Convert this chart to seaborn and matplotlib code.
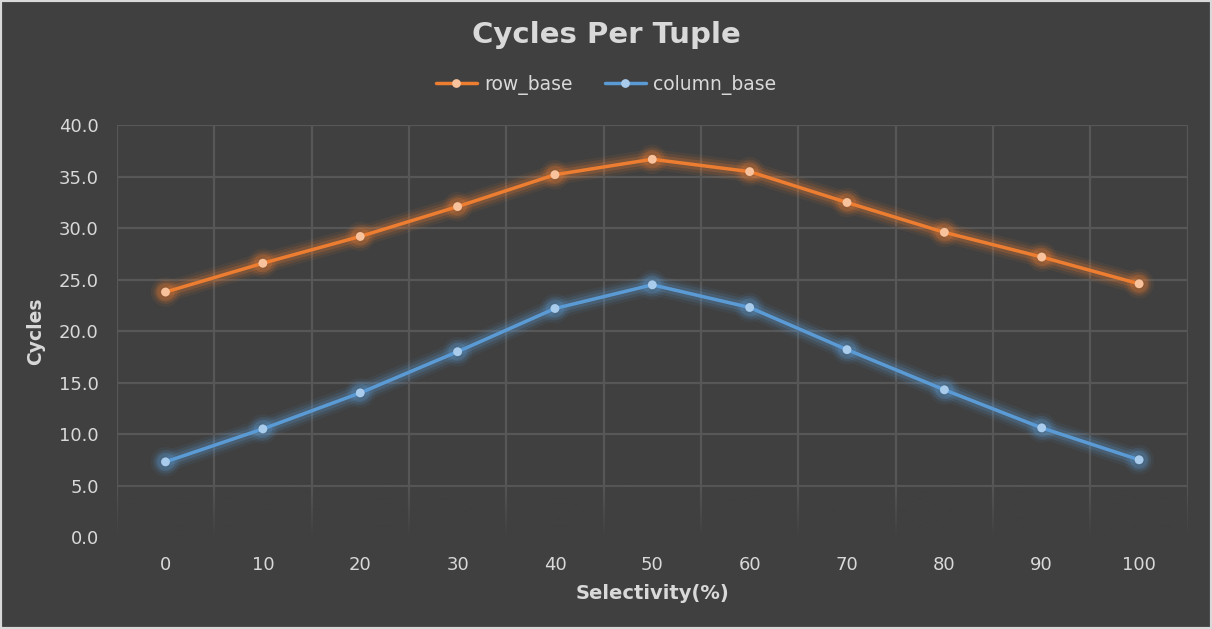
import matplotlib
matplotlib.use("Agg")
import matplotlib.pyplot as plt
import matplotlib.patheffects as pe
from matplotlib.patches import Rectangle
import seaborn as sns
import pandas as pd
import numpy as np

# data
selectivity = ["0", "10", "20", "30", "40", "50", "60", "70", "80", "90", "100"]
row_base = [23.8, 26.6, 29.2, 32.1, 35.2, 36.7, 35.5, 32.5, 29.6, 27.2, 24.6]
column_base = [7.3, 10.5, 14.0, 18.0, 22.2, 24.5, 22.3, 18.2, 14.3, 10.6, 7.5]
y_ticks = [0, 5, 10, 15, 20, 25, 30, 35, 40]

BG = "#404040"
TXT = "#d9d9d9"
GRID = "#575757"
colors = {"row_base": "#ed7d31", "column_base": "#5b9bd5"}
marker_colors = {"row_base": "#f8c29c", "column_base": "#a9cbec"}

df = pd.DataFrame({
    "Selectivity": selectivity * 2,
    "Cycles": row_base + column_base,
    "series": ["row_base"] * len(row_base) + ["column_base"] * len(column_base),
})

sns.set_style("dark")
plt.rcParams["font.family"] = ["DejaVu Sans"]

fig = plt.figure(figsize=(12.12, 6.29), dpi=100, facecolor=BG)
ax = fig.add_axes([0.0964, 0.1463, 0.8836, 0.6545])
ax.set_facecolor(BG)

sns.lineplot(data=df, x="Selectivity", y="Cycles", hue="series",
             palette=colors, sort=False, lw=2.5, ax=ax, legend=False, zorder=3)

# markers + soft glow like the Excel effect
for line, name in zip(ax.get_lines(), ["row_base", "column_base"]):
    line.set_marker("o")
    line.set_markersize(6.3)
    line.set_markerfacecolor(marker_colors[name])
    line.set_markeredgewidth(0)
    c = colors[name]
    line.set_path_effects([
        pe.Stroke(linewidth=15, foreground=c, alpha=0.07),
        pe.Stroke(linewidth=11, foreground=c, alpha=0.12),
        pe.Stroke(linewidth=7, foreground=c, alpha=0.2),
        pe.Normal(),
    ])

ax.set_xlim(-0.5, len(selectivity) - 0.5)
ax.set_ylim(0, 40)
ax.set_yticks(y_ticks)
ax.set_yticklabels([f"{v:.1f}" for v in y_ticks])
ax.set_xticks(range(len(selectivity)))
ax.set_xticklabels(selectivity)
ax.set_xticks(np.arange(-0.5, len(selectivity)), minor=True)

ax.set_axisbelow(True)
ax.grid(False)
ax.grid(True, axis="y", which="major", color=GRID, lw=1.6)
ax.grid(True, axis="x", which="minor", color=GRID, lw=1.6)
for s in ax.spines.values():
    s.set_visible(False)

# gridlines fade out toward the bottom
grad = np.linspace(0, 1, 100).reshape(-1, 1)
rgba = np.zeros((100, 1, 4))
rgba[..., :3] = matplotlib.colors.to_rgb(BG)
rgba[..., 3] = grad
ax.imshow(rgba, extent=(-0.5, len(selectivity) - 0.5, 0, 5.2), origin="upper",
          aspect="auto", zorder=1)
ax.set_xlim(-0.5, len(selectivity) - 0.5)
ax.set_ylim(0, 40)

ax.tick_params(axis="both", which="both", length=0, colors=TXT, labelsize=13)
ax.tick_params(axis="y", pad=13)
ax.tick_params(axis="x", pad=14)

ax.set_xlabel("Selectivity(%)", color=TXT, fontsize=14, fontweight="bold", labelpad=7)
ax.set_ylabel("Cycles", color=TXT, fontsize=13.5, fontweight="bold", labelpad=10)

fig.text(0.5, 0.944, "Cycles Per Tuple", ha="center", va="center",
         color=TXT, fontsize=21, fontweight="bold")

handles = [plt.Line2D([], [], color=colors[n], lw=2.5, marker="o", markersize=6.3,
                      markerfacecolor=marker_colors[n], markeredgewidth=0)
           for n in ["row_base", "column_base"]]
fig.legend(handles, ["row_base", "column_base"], loc="center", ncol=2,
           bbox_to_anchor=(0.5, 0.865), frameon=False, fontsize=13.5,
           labelcolor=TXT, handlelength=2.2, handletextpad=0.4, columnspacing=1.7)

fig.patches.append(Rectangle((0, 0), 1, 1, transform=fig.transFigure, fill=False,
                             edgecolor="#d9d9d9", lw=3))

fig.savefig("out.png", dpi=100, facecolor=BG)
